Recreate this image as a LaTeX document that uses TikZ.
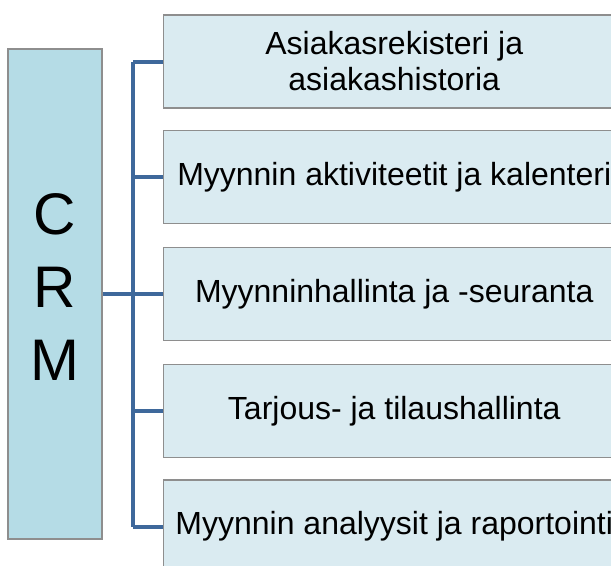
\documentclass[tikz,border=0pt]{standalone}
\usepackage{fontspec}
\setmainfont{Liberation Sans}
\definecolor{itemfill}{HTML}{DAEBF1}
\definecolor{crmfill}{HTML}{B5DCE6}
\definecolor{boxgray}{HTML}{8E8E8E}
\definecolor{linkblue}{HTML}{3E689B}
\begin{document}
\begin{tikzpicture}[x=0.75pt,y=-0.75pt,
  item/.style={draw=boxgray, line width=1.1pt, fill=itemfill,
    minimum width=345.75pt, minimum height=69.75pt, anchor=west,
    inner sep=0pt, align=center, font=\fontsize{24}{27}\selectfont},
  crmbox/.style={draw=boxgray, line width=1.1pt, fill=crmfill,
    minimum width=70.5pt, minimum height=367.5pt, inner sep=0pt},
  crmtext/.style={align=center, inner sep=0pt, font=\fontsize{44}{55}\selectfont},
  link/.style={draw=linkblue, line width=3pt, line join=round}]
\fill[white] (0,0) rectangle (611,565);
\useasboundingbox (0,0) rectangle (611,565);
\clip (0,0) rectangle (611,565);

\coordinate (t1) at (133,61.5);
\coordinate (t2) at (133,177);
\coordinate (t3) at (133,294);
\coordinate (t4) at (133,411);
\coordinate (t5) at (133,526.5);

\draw[link] (t1) -- (t5);
\draw[link] (t1) -- (163,61.5);

\node[crmbox] (crm) at (55,294) {};
\node[crmtext] (crmlabel) at (55,287) {C\\R\\M};

\node[item] (b1) at (163,61.5) {Asiakasrekisteri ja\\asiakashistoria};
\node[item] (b2) at (163,177) {Myynnin aktiviteetit ja kalenteri};
\node[item] (b3) at (163,294) {Myynninhallinta ja -seuranta};
\node[item] (b4) at (163,411) {Tarjous- ja tilaushallinta};
\node[item] (b5) at (163,526.5) {Myynnin analyysit ja raportointi};

\draw[link] (crm.east) -- (t3);
\draw[link] (t1) -- (b1.west);
\draw[link] (t2) -- (b2.west);
\draw[link] (t3) -- (b3.west);
\draw[link] (t4) -- (b4.west);
\draw[link] (t5) -- (b5.west);
\end{tikzpicture}
\end{document}
